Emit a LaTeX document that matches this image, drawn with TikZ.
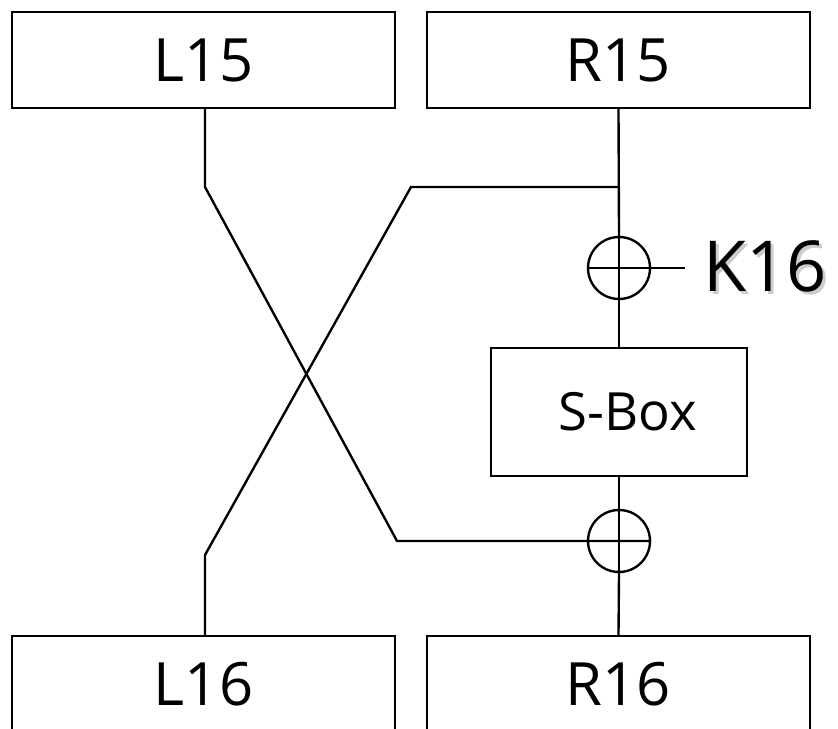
\documentclass[tikz,border=0pt]{standalone}
\usepackage{fontspec}
\setmainfont{Open Sans}
\usetikzlibrary{calc}
\newcommand\shadowed[1]{\makebox[0pt][l]{\hspace{1.6pt}\raisebox{-1.6pt}{\color{gray!40}#1}}#1}

\begin{document}
\begin{tikzpicture}[x=0.02cm, y=-0.02cm, line width=1.35pt,
  half/.style={draw, minimum width=7.66cm, minimum height=1.92cm, inner sep=0pt, font=\fontsize{34}{40}\selectfont},
  sbox/.style={draw, minimum width=5.12cm, minimum height=2.56cm, inner sep=0pt, font=\fontsize{30}{36}\selectfont},
  xorop/.style={draw, circle, minimum size=1.24cm, inner sep=0pt}]
\def\ybend{187} \def\ylow{541}
\useasboundingbox (0,0) rectangle (838,729);
\clip (0,0) rectangle (838,729);
% halves of round 15 and 16
\node[half] (l15) at (203.5,60) {L15};
\node[half] (r15) at (618.5,60) {R15};
\node[half] (l16) at (203.5,684) {L16};
\node[half] (r16) at (618.5,684) {R16};
% round function
\node[xorop] (x1) at (619,268) {};
\node[sbox] (sb) at (619,412) {\,\,S-Box};
\node[xorop] (x2) at (619,541) {};
\node[font=\fontsize{40}{46}\selectfont, inner sep=10pt] (k16) at (765,268) {\shadowed{K16}};
\draw (x1.north) -- (x1.south) (x1.west) -- (x1.east);
\draw (x2.north) -- (x2.south) (x2.west) -- (x2.east);
% straight path
\draw (r15.south) -- (x1.north);
\draw (x1.east) -- (k16.west);
\draw (x1.south) -- (sb.north);
\draw (sb.south) -- (x2.north);
\draw (x2.south) -- (r16.north);
% the swap
\coordinate (la) at (205,\ybend);
\coordinate (lb) at (397,\ylow);
\coordinate (ra) at (619,\ybend);
\coordinate (rb) at (411,\ybend);
\coordinate (rc) at (205,555);
\draw (l15.south -| la) -- (la) -- (lb) -- (x2.east);
\draw (ra) -- (rb) -- (rc) -- (l16.north -| rc);
\end{tikzpicture}
\end{document}
